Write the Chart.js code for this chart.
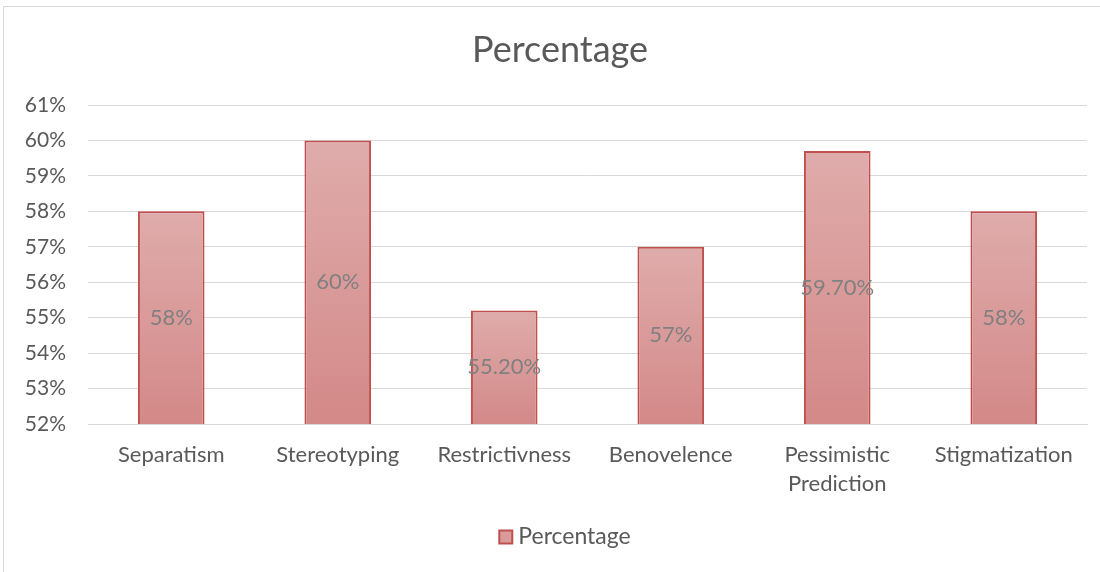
<!DOCTYPE html>
<html>
<head>
<meta charset="utf-8">
<script src="https://cdn.jsdelivr.net/npm/chart.js@4"></script>
<style>
  html, body { margin: 0; padding: 0; background: #fff; }
  #frame { position: absolute; left: 3px; top: 6px; width: 1200px; height: 1000px;
           border-left: 1px solid #d9d9d9; border-top: 1px solid #d9d9d9; }
  #wrap { position: absolute; left: 0; top: 0; width: 1100px; height: 572px; }
</style>
</head>
<body>
<div id="frame"></div>
<div id="wrap"><canvas id="chart" width="1100" height="572"></canvas></div>
<script>
// data
const categories = ['Separatism', 'Stereotyping', 'Restrictivness', 'Benovelence', ['Pessimistic', 'Prediction'], 'Stigmatization'];
const percentages = [58, 60, 55.2, 57, 59.7, 58];
const valueLabels = ['58%', '60%', '55.20%', '57%', '59.70%', '58%'];
const chartTitle = 'Percentage';
const seriesName = 'Percentage';
const yMin = 52;
const yMax = 61;

const FONT = 'Lato, "Open Sans", sans-serif';
const GRAY = '#595959';

// gradient per bar, light at the top, darker at the base
function barFill(ctx) {
  const chart = ctx.chart;
  const y = chart.scales.y;
  if (ctx.type !== 'data' || !y || !chart.chartArea) return '#d99b9b';
  const top = y.getPixelForValue(ctx.raw);
  const base = y.getPixelForValue(yMin);
  const g = chart.ctx.createLinearGradient(0, top, 0, base);
  g.addColorStop(0, '#dfacab');
  g.addColorStop(1, '#d38988');
  return g;
}

// labels in the middle of each bar, plus title and legend placed like Excel does
const excelBits = {
  id: 'excelBits',
  afterDraw(chart) {
    const c = chart.ctx;
    const xs = chart.scales.x;
    const ys = chart.scales.y;
    c.save();
    c.font = '22px ' + FONT;
    c.fillStyle = '#808080';
    c.textAlign = 'center';
    c.textBaseline = 'middle';
    percentages.forEach((v, i) => {
      const mid = (ys.getPixelForValue(v) + ys.getPixelForValue(yMin)) / 2;
      c.fillText(valueLabels[i], xs.getPixelForValue(i), mid);
    });

    // title
    c.font = '36px ' + FONT;
    c.fillStyle = GRAY;
    c.fillText(chartTitle, 560, 50);

    // legend
    c.font = '23px ' + FONT;
    c.textAlign = 'left';
    const label = chart.data.datasets[0].label;
    const tw = c.measureText(label).width;
    const x0 = 565 - (13 + 6 + tw) / 2;
    c.fillStyle = '#d99b9b';
    c.fillRect(x0, 530.5, 13, 13);
    c.strokeStyle = '#c0504d';
    c.lineWidth = 2;
    c.strokeRect(x0, 530.5, 13, 13);
    c.fillStyle = GRAY;
    c.fillText(label, x0 + 19, 537);
    c.restore();
  }
};

new Chart(document.getElementById('chart'), {
  type: 'bar',
  data: {
    labels: categories,
    datasets: [{
      label: seriesName,
      data: percentages,
      backgroundColor: barFill,
      borderColor: '#c0504d',
      borderWidth: 2,
      borderSkipped: 'bottom',
      barPercentage: 0.4,
      categoryPercentage: 1.0
    }]
  },
  options: {
    responsive: false,
    animation: false,
    layout: { padding: { top: 105, right: 13, bottom: 56, left: 0 } },
    plugins: {
      title: { display: false },
      legend: { display: false },
      tooltip: { enabled: false }
    },
    scales: {
      x: {
        grid: { display: false, drawTicks: false },
        border: { color: '#d9d9d9', width: 1 },
        ticks: {
          color: GRAY,
          font: { family: FONT, size: 22, lineHeight: 1.32 },
          padding: 16,
          maxRotation: 0,
          autoSkip: false
        },
        afterFit: (s) => { s.height = 92; }
      },
      y: {
        min: yMin,
        max: yMax,
        grid: { color: '#d9d9d9', lineWidth: 1, drawTicks: false },
        border: { display: false },
        ticks: {
          stepSize: 1,
          color: GRAY,
          font: { family: FONT, size: 21 },
          padding: 22,
          callback: (v) => v + '%'
        },
        afterFit: (s) => { s.width = 88; }
      }
    }
  },
  plugins: [excelBits]
});
</script>
</body>
</html>
